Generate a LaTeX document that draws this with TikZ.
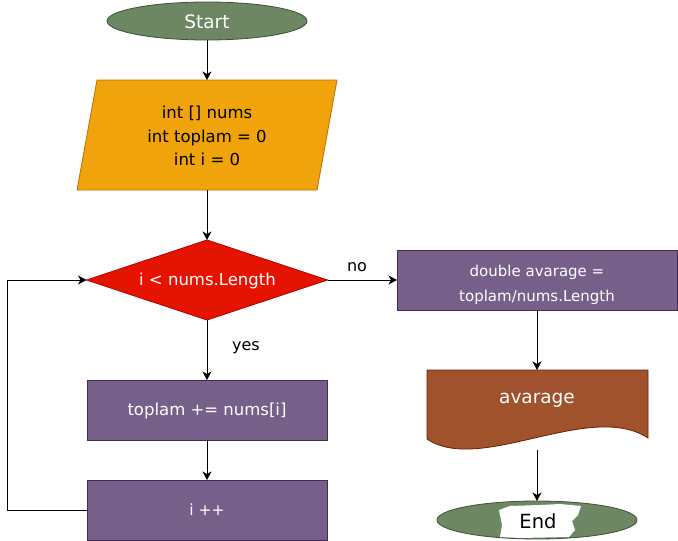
\documentclass[tikz,border=0pt]{standalone}
\usepackage{fontspec}
\setmainfont{DejaVu Sans}
\usetikzlibrary{shapes.geometric,arrows.meta}
\definecolor{gfill}{HTML}{6D8764}\definecolor{gline}{HTML}{3A5431}
\definecolor{ofill}{HTML}{F0A30A}\definecolor{oline}{HTML}{BD7000}
\definecolor{rfill}{HTML}{E51400}\definecolor{rline}{HTML}{B20000}
\definecolor{pfill}{HTML}{76608A}\definecolor{pline}{HTML}{432D57}
\definecolor{sfill}{HTML}{A0522D}\definecolor{sline}{HTML}{6D1F00}
\begin{document}
\begin{tikzpicture}[x=1pt,y=-1pt,
  every node/.style={inner sep=0pt,outer sep=0pt},
  txt/.style={font=\fontsize{16.5}{24}\selectfont,align=center},
  wtxt/.style={txt,text=white},
  term/.style={ellipse,draw=gline,fill=gfill,line width=0.8pt,minimum width=200pt,minimum height=38pt},
  proc/.style={rectangle,draw=pline,fill=pfill,line width=0.8pt,minimum width=240pt,minimum height=60pt},
  anchorbox/.style={rectangle,minimum width=#1},
  flow/.style={line width=1pt,-{Stealth[length=8.5pt,width=9pt,inset=2.5pt]}},
  lbl/.style={font=\fontsize{16}{16}\selectfont}]
\useasboundingbox (0,0) rectangle (678,541);
% Start
\node[term] (start) at (207,21) {};
\node[wtxt,font=\fontsize{18.5}{20}\selectfont] (starttxt) at (207,21.5) {Start};
% parallelogram
\draw[draw=oline,fill=ofill,line width=0.8pt] (97,80) -- (337,80) -- (317,190) -- (77,190) -- cycle;
\node[anchorbox=240pt,minimum height=110pt] (init) at (207,135) {};
\node[txt,font=\fontsize{16.5}{23.5}\selectfont] (inittxt) at (207,136) {int [] nums\\int toplam = 0\\int i = 0};
% decision
\node[diamond,draw=rline,fill=rfill,line width=0.8pt,minimum width=241pt,minimum height=80pt,inner sep=0pt] (dec) at (207,280) {};
\node[wtxt] (dectxt) at (207.5,281) {i < nums.Length};
% box1
\node[proc,minimum width=280pt] (avg) at (537,280) {};
\node[wtxt,font=\fontsize{15}{25}\selectfont] (avgtxt) at (537,285) {double avarage =\\toplam/nums.Length};
% document
\draw[draw=sline,fill=sfill,line width=0.8pt] (427,370) -- (648,370) -- (648,438)
  .. controls (590,400) and (480,475) .. (427,439) -- cycle;
\node[anchorbox=221pt,minimum height=80pt] (doc) at (537,410) {};
\node[wtxt,font=\fontsize{18.5}{20}\selectfont] (doctxt) at (537,400) {avarage};
% End
\node[term] (end) at (537,520) {};
\fill[white] (499,510) -- (510,506) -- (540,505) -- (560,504) -- (581,506) -- (578,515) -- (572,521) -- (575,530) -- (569,537) -- (520,538) -- (500,537) -- (502,525) -- cycle;
\node[txt,font=\fontsize{19.5}{20}\selectfont] (endtxt) at (538,521) {End};
% boxes left
\node[proc] (add) at (207,410) {};
\node[wtxt] (addtxt) at (207,411) {toplam += nums[i]};
\node[proc] (inc) at (207,510) {};
\node[wtxt,font=\fontsize{15.5}{20}\selectfont] (inctxt) at (207,510) {i ++};
% connectors
\draw[flow] (start.south) -- (init.north);
\draw[flow] (init.south) -- (dec.north);
\draw[flow] (dec.east) -- (avg.west);
\draw[flow] (dec.south) -- (add.north);
\draw[flow] (add.south) -- (inc.north);
\draw[flow] (avg.south) -- (doc.north);
\draw[flow] (doc.south) -- (end.north);
\coordinate (lb) at (7.5,510);
\coordinate (lt) at (7.5,280);
\draw[flow] (inc.west) -- (lb) -- (lt) -- (dec.west);
% labels
\node[lbl] (no) at (357,267) {no};
\node[lbl] (yes) at (246,348) {yes};
\end{tikzpicture}
\end{document}
